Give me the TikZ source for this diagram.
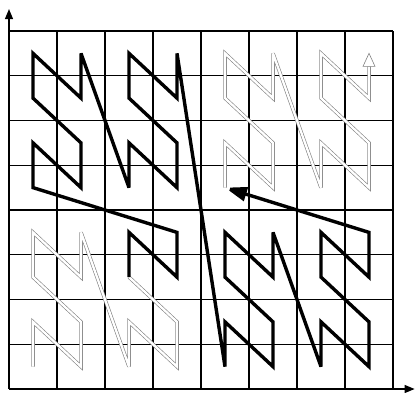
\documentclass[tikz,border=0pt]{standalone}
\usetikzlibrary{arrows.meta}
\tikzset{
  gridline/.style={line width=1.1pt, black},
  axisline/.style={line width=1.3pt, black, -{Triangle[length=10pt,width=8pt]}},
  curveblack/.style={line width=3.4pt, black, line join=miter, miter limit=3},
  curvehollow/.style={draw=black!50, line width=0.6pt, double=white, double distance=2.3pt, line join=miter, miter limit=3},
}
\begin{document}
\begin{tikzpicture}
\useasboundingbox (0,0) rectangle (415pt,392pt);
\fill[white] (0,0) rectangle (415pt,392pt);
\begin{scope}[shift={(9pt,3pt)}, x=48pt, y=44.75pt]
  \foreach \i in {0,...,8}{
    \draw[gridline] (\i,0) -- (\i,8);
    \draw[gridline] (0,\i) -- (8,\i);
  }
  \coordinate (O) at (0,0);
  \coordinate (ytip) at (0,8.49);
  \coordinate (xtip) at (8.45,0);
  \draw[axisline] (O) -- (ytip);
  \draw[axisline] (O) -- (xtip);
  \foreach \c in {0,...,7}{
    \foreach \r in {0,...,7}{
      \coordinate (p\c\r) at (\c+0.5,\r+0.5);
    }
  }
  % hollow parts of the curve
  \draw[curvehollow] (p00) -- (p01) -- (p10) -- (p11) -- (p02) -- (p03) -- (p12) -- (p13)
     -- (p20) -- (p21) -- (p30) -- (p31) -- (p22);
  \coordinate (hbase) at ([yshift=-13pt]p77);
  \draw[curvehollow] (p44) -- (p45) -- (p54) -- (p55) -- (p46) -- (p47) -- (p56) -- (p57)
     -- (p64) -- (p65) -- (p74) -- (p75) -- (p66) -- (p67) -- (p76) -- (hbase);
  \draw[draw=black!50, line width=0.6pt, fill=white, line join=miter]
     (p77) -- ([xshift=-6pt,yshift=-13pt]p77) -- ([xshift=-1.8pt,yshift=-13pt]p77)
     -- ([xshift=1.8pt,yshift=-13pt]p77) -- ([xshift=6pt,yshift=-13pt]p77) -- cycle;
  % black part of the curve
  \draw[curveblack, -{Triangle[length=22pt,width=14pt]}]
     (p22) -- (p23) -- (p32) -- (p33)
     -- (p04) -- (p05) -- (p14) -- (p15) -- (p06) -- (p07) -- (p16) -- (p17)
     -- (p24) -- (p25) -- (p34) -- (p35) -- (p26) -- (p27) -- (p36) -- (p37)
     -- (p40) -- (p41) -- (p50) -- (p51) -- (p42) -- (p43) -- (p52) -- (p53)
     -- (p60) -- (p61) -- (p70) -- (p71) -- (p62) -- (p63) -- (p72) -- (p73)
     -- (p44);
\end{scope}
\end{tikzpicture}
\end{document}
